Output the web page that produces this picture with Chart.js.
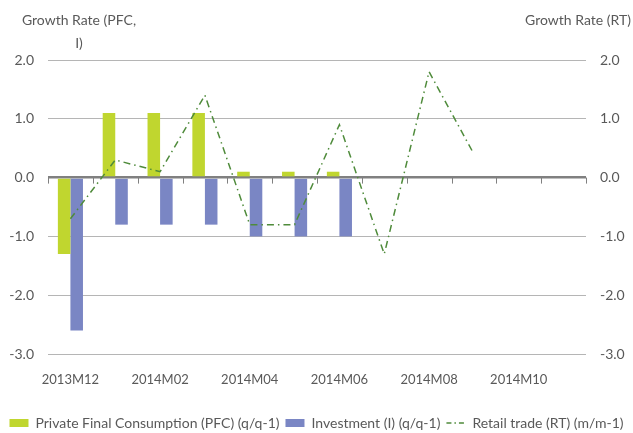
<!DOCTYPE html>
<html>
<head>
<meta charset="utf-8">
<script src="https://cdn.jsdelivr.net/npm/chart.js@4/dist/chart.umd.min.js"></script>
<style>
  html, body { margin: 0; padding: 0; background: #fff; }
  #wrap { width: 633px; height: 433px; position: relative; }
</style>
</head>
<body>
<div id="wrap"><canvas id="growthChart"></canvas></div>
<script>
var months = ['2013M12', '2014M01', '2014M02', '2014M03', '2014M04', '2014M05',
              '2014M06', '2014M07', '2014M08', '2014M09', '2014M10', '2014M11'];
var pfcValues = [-1.3, 1.1, 1.1, 1.1, 0.1, 0.1, 0.1, null, null, null, null, null];
var investValues = [-2.6, -0.8, -0.8, -0.8, -1.0, -1.0, -1.0, null, null, null, null, null];
var retailValues = [-0.7, 0.3, 0.1, 1.4, -0.8, -0.8, 0.9, -1.3, 1.8, 0.4, null, null];
var yTicks = [-3, -2, -1, 0, 1, 2];

var textGrey = '#595959';
var lineGreen = '#4f8b3b';
Chart.defaults.font.family = 'Lato, "Open Sans", sans-serif';
Chart.defaults.color = textGrey;

// axis titles sit above the plot, and the category ticks hang off the zero line
var extrasPlugin = {
  id: 'extras',
  afterDraw: function (chart) {
    var ctx = chart.ctx;
    var x = chart.scales.x;
    var y = chart.scales.y;
    var zeroY = y.getPixelForValue(0);
    var step = x.width / months.length;
    ctx.save();
    ctx.strokeStyle = '#808080';
    ctx.lineWidth = 1;
    for (var i = 0; i <= months.length; i++) {
      var px = Math.round(x.left + i * step) + 0.5;
      ctx.beginPath();
      ctx.moveTo(px, zeroY);
      ctx.lineTo(px, zeroY + 6);
      ctx.stroke();
    }
    ctx.fillStyle = textGrey;
    ctx.font = '14px Lato';
    ctx.textAlign = 'center';
    ctx.textBaseline = 'middle';
    ctx.fillText('Growth Rate (PFC,', 79, 20);
    ctx.fillText('I)', 79, 43);
    ctx.fillText('Growth Rate (RT)', 578, 20);
    ctx.restore();
  }
};

var chart = new Chart(document.getElementById('growthChart'), {
  type: 'bar',
  data: {
    labels: months,
    datasets: [
      {
        label: 'Private Final Consumption (PFC) (q/q-1)',
        data: pfcValues,
        backgroundColor: '#c0d62f',
        yAxisID: 'y',
        order: 2
      },
      {
        label: 'Investment (I) (q/q-1)',
        data: investValues,
        backgroundColor: '#7a86c4',
        yAxisID: 'y',
        order: 2
      },
      {
        type: 'line',
        label: 'Retail trade (RT) (m/m-1)',
        data: retailValues,
        borderColor: lineGreen,
        backgroundColor: lineGreen,
        borderWidth: 1.5,
        borderDash: [7, 4, 1.5, 4],
        pointRadius: 0,
        tension: 0,
        yAxisID: 'y1',
        order: 1
      }
    ]
  },
  options: {
    responsive: true,
    maintainAspectRatio: false,
    animation: false,
    layout: { padding: { top: 60, left: 0, right: 0, bottom: -7 } },
    datasets: {
      bar: { categoryPercentage: 0.56, barPercentage: 1.0 }
    },
    scales: {
      x: {
        grid: { display: false },
        border: { display: false },
        ticks: {
          autoSkip: false,
          maxRotation: 0,
          padding: 10,
          font: { size: 13 },
          callback: function (v, i) { return i % 2 === 0 ? months[i] : ''; }
        },
        afterFit: function (s) { s.height = 56; }
      },
      y: {
        position: 'left',
        min: -3,
        max: 2,
        afterBuildTicks: function (s) { s.ticks = yTicks.map(function (v) { return { value: v }; }); },
        grid: {
          drawTicks: false,
          color: function (c) { return c.tick && c.tick.value === 0 ? '#808080' : '#b5b5b5'; },
          lineWidth: function (c) { return c.tick && c.tick.value === 0 ? 2.5 : 1; }
        },
        border: { display: false },
        ticks: {
          padding: 14,
          font: { size: 14 },
          callback: function (v) { return v.toFixed(1); }
        },
        afterFit: function (s) { s.width = 48; }
      },
      y1: {
        position: 'right',
        min: -3,
        max: 2,
        afterBuildTicks: function (s) { s.ticks = yTicks.map(function (v) { return { value: v }; }); },
        grid: { display: false, drawTicks: false },
        border: { display: false },
        ticks: {
          padding: 14,
          font: { size: 14 },
          callback: function (v) { return v.toFixed(1); }
        },
        afterFit: function (s) { s.width = 47; }
      }
    },
    plugins: {
      legend: {
        position: 'bottom',
        labels: {
          usePointStyle: true,
          pointStyleWidth: 19,
          boxHeight: 8,
          padding: 6,
          color: textGrey,
          font: { size: 14 },
          generateLabels: function (ch) {
            var items = Chart.defaults.plugins.legend.labels.generateLabels(ch);
            items.sort(function (a, b) { return a.datasetIndex - b.datasetIndex; });
            items.forEach(function (it) {
              if (it.datasetIndex === 2) {
                it.pointStyle = 'line';
                it.lineDash = [5, 3, 1.5, 3];
                it.strokeStyle = lineGreen;
                it.lineWidth = 1.5;
              } else {
                it.pointStyle = 'rect';
                it.lineWidth = 0;
              }
            });
            return items;
          }
        }
      },
      tooltip: { enabled: false }
    }
  },
  plugins: [extrasPlugin]
});
</script>
</body>
</html>
